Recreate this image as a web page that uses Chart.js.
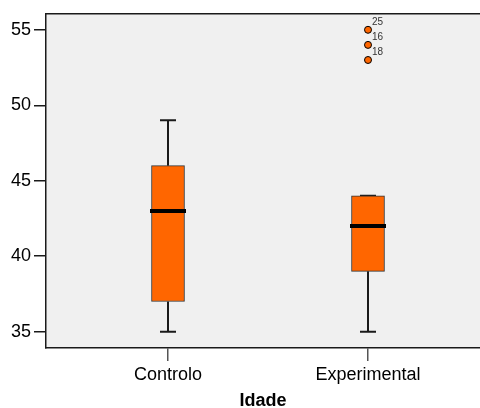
<!DOCTYPE html>
<html>
<head>
<meta charset="utf-8">
<script src="https://cdn.jsdelivr.net/npm/chart.js@4.4.1/dist/chart.umd.min.js"></script>
<style>
  html, body { margin: 0; padding: 0; background: #fff; overflow: hidden; }
  canvas { display: block; }
</style>
</head>
<body>
<canvas id="box-chart" width="480" height="408"></canvas>
<script>
const GROUPS = ['Controlo', 'Experimental'];
const GROUP_POS = [1, 2];
const WHISKER_LOW = [35, 35];
const Q1 = [37, 39];
const MEDIAN = [43, 42];
const Q3 = [46, 44];
const WHISKER_HIGH = [49, 44];
const OUTLIER_GROUP = [1, 1, 1];
const OUTLIER_VALUES = [55, 54, 53];
const OUTLIER_IDS = ['25', '16', '18'];
const Y_TICKS = [35, 40, 45, 50, 55];

const FONT = 'Liberation Sans, Arial, sans-serif';
const BOX_COLOR = '#ff6600';
const LINE_COLOR = '#1a1a1a';

Chart.defaults.font.family = FONT;

const boxPlugin = {
    id: 'boxParts',
    beforeDraw(chart) {
        const { ctx, chartArea: a } = chart;
        ctx.save();
        ctx.fillStyle = '#f0f0f0';
        ctx.fillRect(a.left, a.top, a.right - a.left, a.bottom - a.top);
        ctx.restore();
    },
    beforeDatasetsDraw(chart) {
        const { ctx, scales: { x, y } } = chart;
        ctx.save();
        ctx.strokeStyle = LINE_COLOR;
        ctx.lineWidth = 2;
        GROUP_POS.forEach((p, i) => {
            const px = Math.round(x.getPixelForValue(p));
            const lo = y.getPixelForValue(WHISKER_LOW[i]);
            const hi = y.getPixelForValue(WHISKER_HIGH[i]);
            ctx.beginPath();
            ctx.moveTo(px, lo); ctx.lineTo(px, y.getPixelForValue(Q1[i]));
            ctx.moveTo(px, y.getPixelForValue(Q3[i])); ctx.lineTo(px, hi);
            ctx.moveTo(px - 8, lo); ctx.lineTo(px + 8, lo);
            ctx.moveTo(px - 8, hi); ctx.lineTo(px + 8, hi);
            ctx.stroke();
        });
        ctx.restore();
    },
    afterDatasetsDraw(chart) {
        const { ctx, chartArea: a, scales: { x, y } } = chart;
        ctx.save();
        ctx.strokeStyle = '#000';
        ctx.lineWidth = 4;
        GROUP_POS.forEach((p, i) => {
            const px = Math.round(x.getPixelForValue(p));
            const py = y.getPixelForValue(MEDIAN[i]);
            ctx.beginPath();
            ctx.moveTo(px - 18, py); ctx.lineTo(px + 18, py);
            ctx.stroke();
        });
        ctx.fillStyle = '#333';
        ctx.font = '10px ' + FONT;
        ctx.textBaseline = 'middle';
        OUTLIER_VALUES.forEach((v, i) => {
            const px = x.getPixelForValue(GROUP_POS[OUTLIER_GROUP[i]]);
            const py = y.getPixelForValue(v);
            ctx.fillText(OUTLIER_IDS[i], px + 4, py - 8);
        });
        // top frame line
        ctx.strokeStyle = LINE_COLOR;
        ctx.lineWidth = 1.5;
        ctx.beginPath();
        ctx.moveTo(a.left, a.top); ctx.lineTo(a.right, a.top);
        ctx.stroke();
        ctx.restore();
    }
};

new Chart(document.getElementById('box-chart'), {
    type: 'bar',
    data: {
        datasets: [{
            type: 'bar',
            data: GROUP_POS.map((p, i) => ({ x: p, y: [Q1[i], Q3[i]] })),
            backgroundColor: BOX_COLOR,
            borderColor: '#333',
            borderWidth: 1,
            borderSkipped: false,
            barThickness: 33
        }, {
            type: 'scatter',
            data: OUTLIER_VALUES.map((v, i) => ({ x: GROUP_POS[OUTLIER_GROUP[i]], y: v })),
            backgroundColor: BOX_COLOR,
            borderColor: '#000',
            borderWidth: 1,
            pointRadius: 3.5
        }]
    },
    options: {
        responsive: false, animation: false,
        layout: { autoPadding: false, padding: { top: 13, right: 0, left: 0, bottom: 0 } },
        plugins: { legend: { display: false }, tooltip: { enabled: false } },
        scales: {
            x: {
                type: 'linear', min: 0.39, max: 2.56, offset: false,
                afterBuildTicks: s => { s.ticks = GROUP_POS.map(v => ({ value: v })); },
                afterFit: s => { s.height = 60; s.paddingRight = 0; s.paddingLeft = 0; },
                grid: { offset: false, drawOnChartArea: false, drawTicks: true, tickLength: 13, color: '#555', lineWidth: 1.5 },
                border: { display: true, color: LINE_COLOR, width: 1.5 },
                ticks: {
                    color: '#000', font: { size: 18 }, padding: 3, maxRotation: 0, autoSkip: false,
                    callback: v => GROUPS[GROUP_POS.indexOf(v)] || ''
                },
                title: { display: true, text: 'Idade', color: '#000', font: { size: 18, weight: 'bold' }, padding: { top: 2, bottom: -4 } }
            },
            y: {
                min: 33.92, max: 56.06,
                afterBuildTicks: s => { s.ticks = Y_TICKS.map(v => ({ value: v })); },
                afterFit: s => { s.width = 46; },
                grid: { drawOnChartArea: false, drawTicks: true, tickLength: 12, color: LINE_COLOR, lineWidth: 1.5 },
                border: { display: true, color: LINE_COLOR, width: 1.5 },
                ticks: { color: '#000', font: { size: 18 }, padding: 3 }
            }
        }
    },
    plugins: [boxPlugin]
});
</script>
</body>
</html>
